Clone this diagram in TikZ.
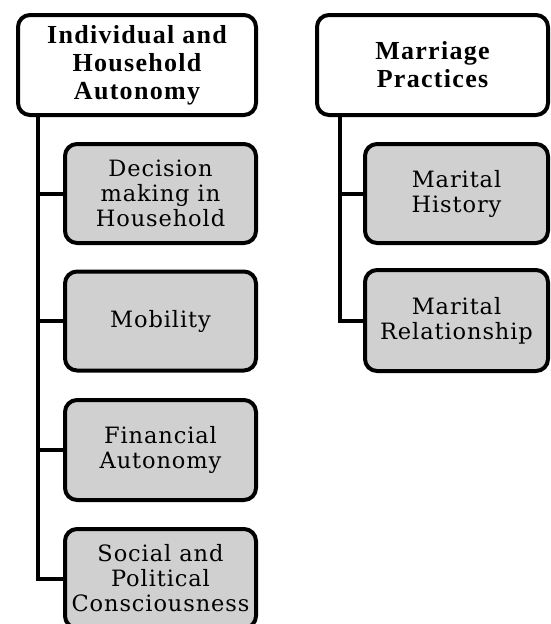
\documentclass[tikz,border=0pt]{standalone}
\usepackage{fontspec}
\newfontfamily\parfont[LetterSpace=5]{Liberation Serif}
\newfontfamily\kidfont[LetterSpace=4]{DejaVu Serif}
\definecolor{kidgray}{RGB}{208,208,208}
\begin{document}
\begin{tikzpicture}[x=1pt,y=-1pt,
  box/.style={draw=black, line width=4pt, rounded corners=12pt, inner sep=0pt, align=center},
  parentbox/.style={box, fill=white, font=\parfont\bfseries\fontsize{26}{28}\selectfont},
  childbox/.style={box, fill=kidgray, font=\kidfont\fontsize{22.5}{25}\selectfont},
  link/.style={line width=4pt}]
\useasboundingbox (0,0) rectangle (550,624);
\clip (0,0) rectangle (550,624);
% parents
\node[parentbox, minimum width=238pt, minimum height=100pt] (lp) at (137,65) {Individual and\\Household\\Autonomy};
\node[parentbox, minimum width=231pt, minimum height=100pt] (rp) at (432.5,65) {Marriage\\Practices};
% left children
\node[childbox, minimum width=191pt, minimum height=99pt] (l1) at (160.5,193.5) {Decision\\making in\\Household};
\node[childbox, minimum width=191pt, minimum height=99pt] (l2) at (160.5,321) {Mobility};
\node[childbox, minimum width=191pt, minimum height=100pt] (l3) at (160.5,450) {Financial\\Autonomy};
\node[childbox, minimum width=191pt, minimum height=99pt] (l4) at (160.5,578.5) {Social and\\Political\\Consciousness};
% right children
\node[childbox, minimum width=183pt, minimum height=99pt] (r1) at (456.5,193.5) {Marital\\History};
\node[childbox, minimum width=183pt, minimum height=101pt] (r2) at (456.5,320.5) {Marital\\Relationship};
% connectors
\coordinate (lt) at ([xshift=22pt]lp.south west);
\coordinate (rt) at ([xshift=25pt]rp.south west);
\draw[link] (lt) |- (l1.west);
\draw[link] (lt) |- (l2.west);
\draw[link] (lt) |- (l3.west);
\draw[link] (lt) |- (l4.west);
\draw[link] (rt) |- (r1.west);
\draw[link] (rt) |- (r2.west);
\end{tikzpicture}
\end{document}
